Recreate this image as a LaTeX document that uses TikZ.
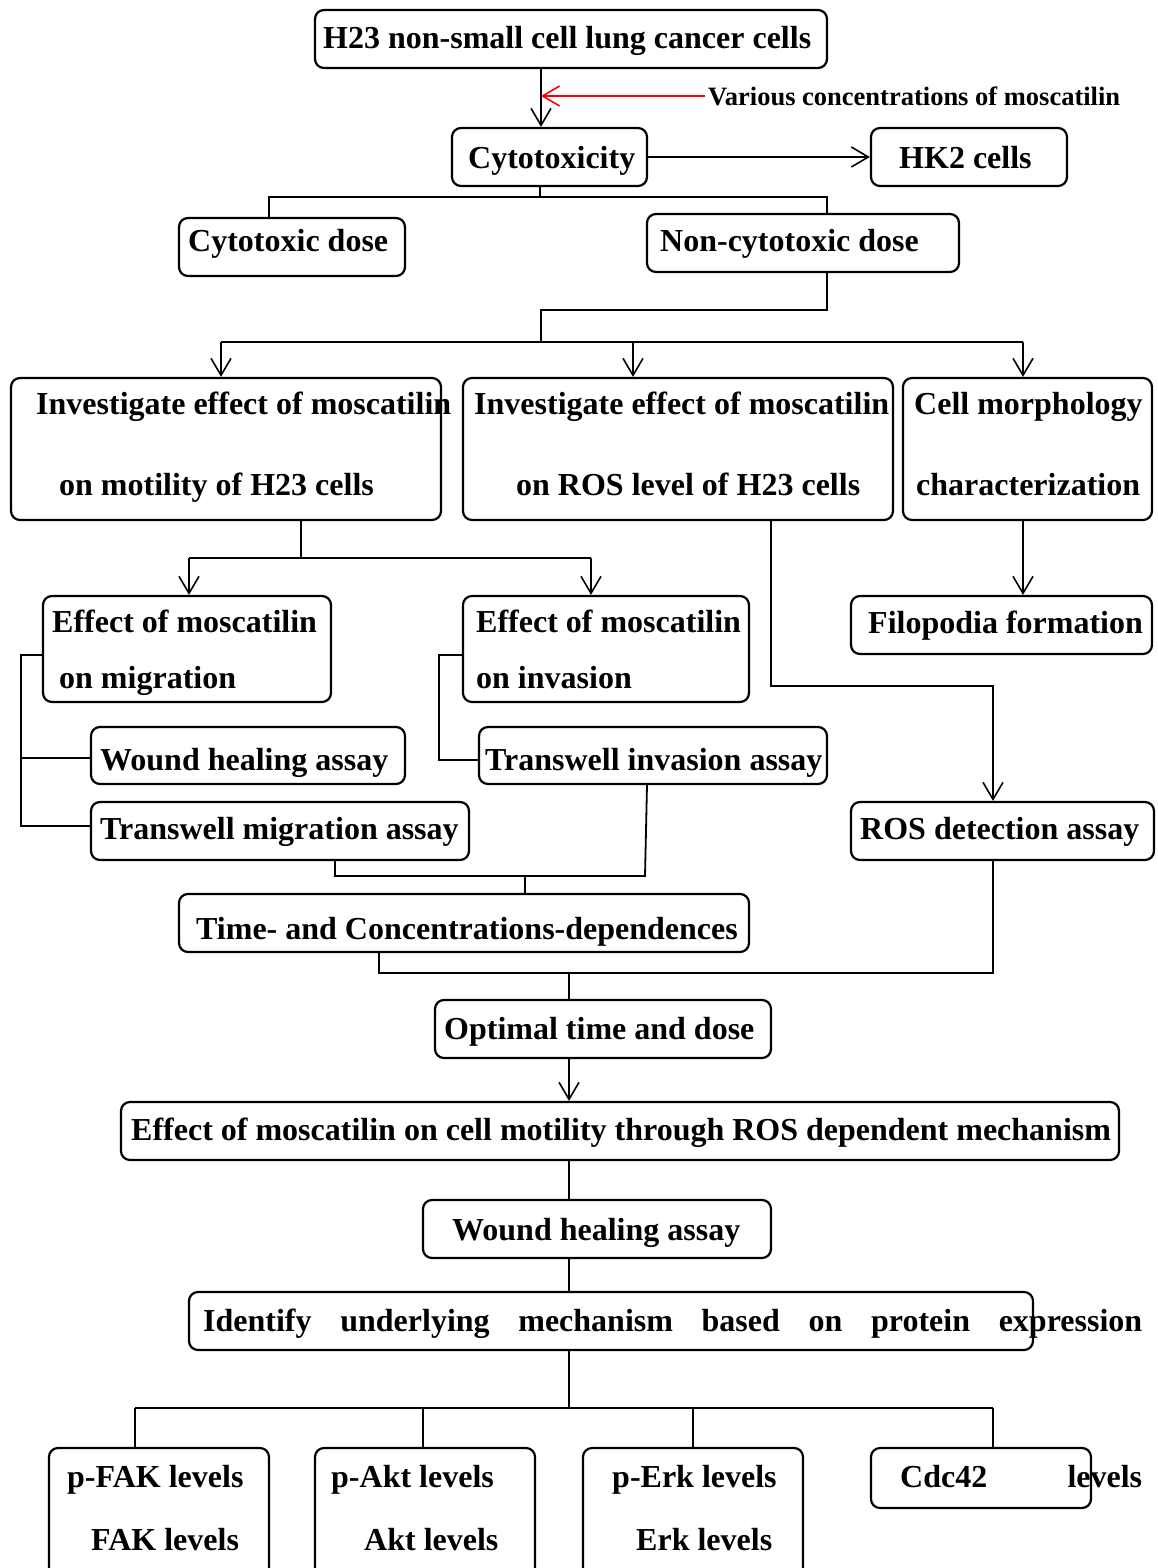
\documentclass[tikz,border=0pt]{standalone}
\usepackage{fontspec}
\setmainfont{Liberation Serif}
\usetikzlibrary{arrows.meta}
\tikzset{
  box/.style={draw, rounded corners=9pt, line width=2.2pt, inner sep=0pt},
  txt/.style={anchor=base west, inner sep=0pt, font=\fontsize{32}{38}\selectfont\bfseries},
  link/.style={line width=1.8pt},
  arr/.style={link, -{Straight Barb[length=17pt,width=20pt,line width=1.6pt]}}
}
\begin{document}
\begin{tikzpicture}[x=1pt,y=-1pt]
    \useasboundingbox (0,0) rectangle (1158,1568);
    \clip (0,0) rectangle (1158,1568);
    % boxes
    \node[box,minimum width=512,minimum height=58] (h23) at (571,39) {};
    \node[box,minimum width=195,minimum height=58] (tox) at (549.5,157) {};
    \node[box,minimum width=196,minimum height=58] (hk2) at (969,157) {};
    \node[box,minimum width=226,minimum height=58] (cdose) at (292,247) {};
    \node[box,minimum width=312,minimum height=58] (ncdose) at (803,243) {};
    \node[box,minimum width=430,minimum height=142] (motil) at (226,449) {};
    \node[box,minimum width=430,minimum height=142] (ros) at (678,449) {};
    \node[box,minimum width=249,minimum height=142] (morph) at (1027.5,449) {};
    \node[box,minimum width=288,minimum height=106] (mig) at (187,649) {};
    \node[box,minimum width=286,minimum height=106] (inv) at (606,649) {};
    \node[box,minimum width=301,minimum height=58] (filo) at (1001.5,625) {};
    \node[box,minimum width=314,minimum height=57] (wound) at (248,755.5) {};
    \node[box,minimum width=348,minimum height=57] (tinv) at (653,755.5) {};
    \node[box,minimum width=378,minimum height=58] (tmig) at (280,831) {};
    \node[box,minimum width=303,minimum height=58] (rosd) at (1002.5,831) {};
    \node[box,minimum width=570,minimum height=58] (timed) at (464,923) {};
    \node[box,minimum width=336,minimum height=58] (opt) at (603,1029) {};
    \node[box,minimum width=998,minimum height=58] (effect) at (620,1131) {};
    \node[box,minimum width=348,minimum height=58] (wound2) at (597,1229) {};
    \node[box,minimum width=844,minimum height=58] (ident) at (611,1321) {};
    \node[box,minimum width=220,minimum height=152] (fak) at (159,1524) {};
    \node[box,minimum width=220,minimum height=152] (akt) at (425,1524) {};
    \node[box,minimum width=220,minimum height=152] (erk) at (693,1524) {};
    \node[box,minimum width=220,minimum height=60] (cdc) at (981,1478) {};
    % texts
    \node[txt] (t-h23) at (323,49) {H23 non-small cell lung cancer cells};
    \node[txt,red!0!black,font=\fontsize{26.5}{30}\selectfont\bfseries] (conc) at (708,106) {Various concentrations of moscatilin};
    \node[txt] (t-tox) at (468,168) {Cytotoxicity};
    \node[txt] (t-hk2) at (899,168) {HK2 cells};
    \node[txt] (t-cdose) at (188,251) {Cytotoxic dose};
    \node[txt] (t-ncdose) at (660,251) {Non-cytotoxic dose};
    \node[txt] (t-motil1) at (36,414) {Investigate effect of moscatilin};
    \node[txt] (t-motil2) at (59,495) {on motility of H23 cells};
    \node[txt] (t-ros1) at (474,414) {Investigate effect of moscatilin};
    \node[txt] (t-ros2) at (516,495) {on ROS level of H23 cells};
    \node[txt] (t-morph1) at (914,414) {Cell morphology};
    \node[txt] (t-morph2) at (916,495) {characterization};
    \node[txt] (t-mig1) at (52,632) {Effect of moscatilin};
    \node[txt] (t-mig2) at (59,688) {on migration};
    \node[txt] (t-inv1) at (476,632) {Effect of moscatilin};
    \node[txt] (t-inv2) at (476,688) {on invasion};
    \node[txt] (t-filo) at (868,633) {Filopodia formation};
    \node[txt] (t-wound) at (100,770) {Wound healing assay};
    \node[txt] (t-tinv) at (485,770) {Transwell invasion assay};
    \node[txt] (t-tmig) at (100,839) {Transwell migration assay};
    \node[txt] (t-rosd) at (860,839) {ROS detection assay};
    \node[txt] (t-timed) at (196,939) {Time- and Concentrations-dependences};
    \node[txt] (t-opt) at (444,1039) {Optimal time and dose};
    \node[txt] (t-effect) at (131,1140) {Effect of moscatilin on cell motility through ROS dependent mechanism};
    \node[txt] (t-wound2) at (452,1240) {Wound healing assay};
    \node[txt] (t-ident) at (203,1331) {\makebox[939pt][s]{Identify underlying mechanism based on protein expression}};
    \node[txt] (t-fak1) at (67,1487) {p-FAK levels};
    \node[txt] (t-fak2) at (91,1550) {FAK levels};
    \node[txt] (t-akt1) at (331,1487) {p-Akt levels};
    \node[txt] (t-akt2) at (364,1550) {Akt levels};
    \node[txt] (t-erk1) at (612,1487) {p-Erk levels};
    \node[txt] (t-erk2) at (636,1550) {Erk levels};
    \node[txt] (t-cdc) at (900,1487) {\makebox[242pt][s]{Cdc42 levels}};
    % connectors
    \draw[arr] (541,0 |- h23.south) -- (541,0 |- tox.north);
    \draw[arr,red] (705,96) -- (541,96);
    \draw[arr] (tox.east) -- (hk2.west);
    \draw[link] (540,0 |- tox.south) -- (540,197);
    \draw[link] (269,0 |- cdose.north) |- (827,197) -- (827,0 |- ncdose.north);
    \draw[link] (827,0 |- ncdose.south) |- (541,310) -- (541,342);
    \draw[link] (221,342) -- (1023,342);
    \draw[arr] (221,342) -- (221,0 |- motil.north);
    \draw[arr] (633,342) -- (633,0 |- ros.north);
    \draw[arr] (1023,342) -- (1023,0 |- morph.north);
    \draw[link] (301,0 |- motil.south) -- (301,558);
    \draw[link] (189,558) -- (591,558);
    \draw[arr] (189,558) -- (189,0 |- mig.north);
    \draw[arr] (591,558) -- (591,0 |- inv.north);
    \draw[arr] (1023,0 |- morph.south) -- (1023,0 |- filo.north);
    \draw[arr] (771,0 |- ros.south) |- (993,686) -- (993,0 |- rosd.north);
    \draw[link] (43,655) -| (21,826) -- (91,826);
    \draw[link] (21,758) -- (91,758);
    \draw[link] (463,655) -| (439,760) -- (479,760);
    \draw[link] (335,0 |- tmig.south) |- (645,876) -- (647,0 |- tinv.south);
    \draw[link] (525,876) -- (525,0 |- timed.north);
    \draw[link] (379,0 |- timed.south) |- (993,973) -- (993,0 |- rosd.south);
    \draw[link] (569,973) -- (569,0 |- opt.north);
    \draw[arr] (569,0 |- opt.south) -- (569,0 |- effect.north);
    \draw[link] (569,0 |- effect.south) -- (569,0 |- wound2.north);
    \draw[link] (569,0 |- wound2.south) -- (569,0 |- ident.north);
    \draw[link] (569,0 |- ident.south) -- (569,1408);
    \draw[link] (135,1408) -- (993,1408);
    \draw[link] (135,1408) -- (135,0 |- fak.north);
    \draw[link] (423,1408) -- (423,0 |- akt.north);
    \draw[link] (693,1408) -- (693,0 |- erk.north);
    \draw[link] (993,1408) -- (993,0 |- cdc.north);
\end{tikzpicture}
\end{document}
